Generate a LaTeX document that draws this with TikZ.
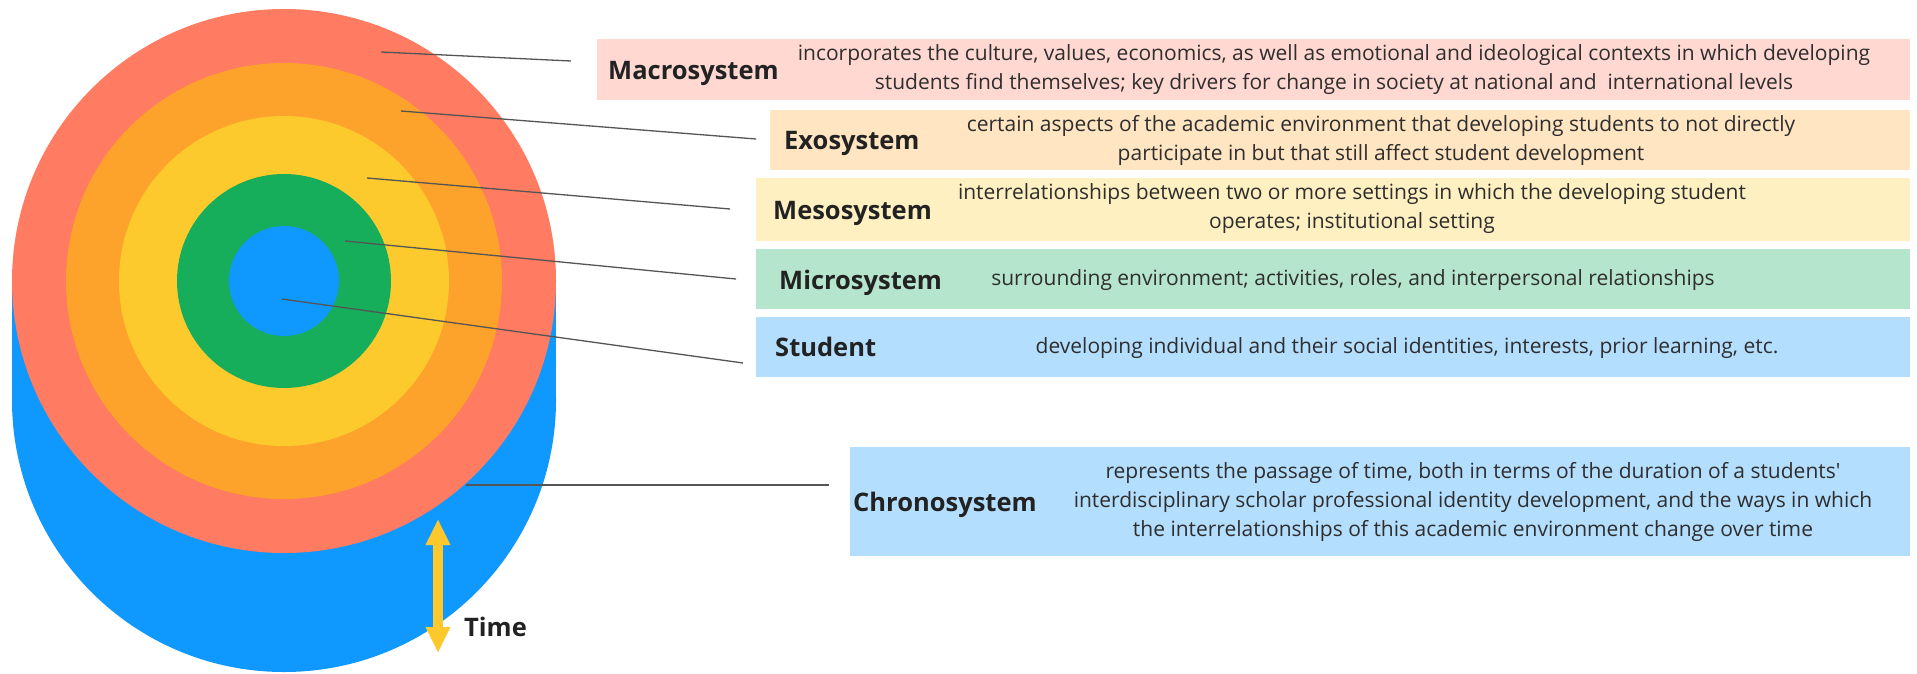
\documentclass[tikz,border=0pt]{standalone}
\usepackage{fontspec}
\setmainfont{Open Sans}[Ligatures=TeXOff]
\usetikzlibrary{arrows.meta}
\definecolor{ringred}{HTML}{FF7B61}
\definecolor{ringorange}{HTML}{FDA32B}
\definecolor{ringyellow}{HTML}{FDCA2D}
\definecolor{ringgreen}{HTML}{17AE5B}
\definecolor{ringblue}{HTML}{0F98FE}
\definecolor{boxpink}{HTML}{FFD8D1}
\definecolor{boxpeach}{HTML}{FFE5C1}
\definecolor{boxyellow}{HTML}{FFF0C2}
\definecolor{boxgreen}{HTML}{B6E5CD}
\definecolor{boxblue}{HTML}{B4DEFE}
\definecolor{timeyellow}{HTML}{FDC82B}
\definecolor{inkdark}{HTML}{222222}
\definecolor{inkdesc}{HTML}{2E2E2E}
\definecolor{leader}{HTML}{555555}
\tikzset{
  ring/.style={circle, inner sep=0pt, outer sep=0pt, minimum size=#1},
  bandbox/.style={rectangle, inner sep=0pt, outer sep=0pt, anchor=north west},
  syslabel/.style={anchor=west, inner sep=0pt, text=inkdark,
    font=\fontsize{25.5}{30}\selectfont\bfseries, text height=18pt, text depth=0pt},
  sysdesc/.style={anchor=center, inner sep=0pt, align=center, text=inkdesc,
    font=\fontsize{21}{29}\selectfont},
  leaderline/.style={draw=leader, line width=1.3pt},
}
\begin{document}
\begin{tikzpicture}[x=1pt, y=-1pt]
\useasboundingbox (0,0) rectangle (1917,673);
% cylinder body
\node[ring=544pt, fill=ringblue] (base) at (284,400) {};
\fill[ringblue] (12,281) rectangle (556,400);
% rings
\node[ring=544pt, fill=ringred] (macroC) at (284,281) {};
\node[ring=436pt, fill=ringorange] (exoC) at (284,281) {};
\node[ring=330pt, fill=ringyellow] (mesoC) at (284,281) {};
\node[ring=214pt, fill=ringgreen] (microC) at (284,281) {};
\node[ring=110pt, fill=ringblue] (studentC) at (284,281) {};

% boxes
\node[bandbox, fill=boxpink, minimum width=1313pt, minimum height=61pt] (macroB) at (597,39) {};
\node[bandbox, fill=boxpeach, minimum width=1140pt, minimum height=60pt] (exoB) at (770,110) {};
\node[bandbox, fill=boxyellow, minimum width=1154pt, minimum height=63pt] (mesoB) at (756,178) {};
\node[bandbox, fill=boxgreen, minimum width=1154pt, minimum height=60pt] (microB) at (756,249) {};
\node[bandbox, fill=boxblue, minimum width=1154pt, minimum height=60pt] (studentB) at (756,317) {};
\node[bandbox, fill=boxblue, minimum width=1060pt, minimum height=109pt] (chronoB) at (850,447) {};

% labels
\node[syslabel] (macroL) at (608,70) {Macrosystem};
\node[syslabel] (exoL) at (784,140) {Exosystem};
\node[syslabel] (mesoL) at (773,210) {Mesosystem};
\node[syslabel] (microL) at (779,280) {Microsystem};
\node[syslabel] (studentL) at (775,347) {Student};
\node[syslabel] (chronoL) at (853,502) {Chronosystem};

% descriptions
\node[sysdesc] (macroD) at (1334,70) {incorporates the culture, values, economics, as well as emotional and ideological contexts in which developing\\students find themselves; key drivers for change in society at national and\ \ international levels};
\node[sysdesc] (exoD) at (1381,140) {certain aspects of the academic environment that developing students to not directly\\participate in but that still affect student development};
\node[sysdesc] (mesoD) at (1352,209) {interrelationships between two or more settings in which the developing student\\operates; institutional setting};
\node[sysdesc] (microD) at (1353,280) {surrounding environment; activities, roles, and interpersonal relationships};
\node[sysdesc] (studentD) at (1407,348) {developing individual and their social identities, interests, prior learning, etc.};
\node[sysdesc] (chronoD) at (1473,502) {represents the passage of time, both in terms of the duration of a students'\\interdisciplinary scholar professional identity development, and the ways in which\\the interrelationships of this academic environment change over time};

% leader lines
\coordinate (macroP) at (381,52);   \coordinate (macroE) at (571,61);
\coordinate (exoP) at (401,111);    \coordinate (exoE) at (756,139);
\coordinate (mesoP) at (367,178);   \coordinate (mesoE) at (730,209);
\coordinate (microP) at (345,241);  \coordinate (microE) at (736,279);
\coordinate (studentP) at (282,299);\coordinate (studentE) at (743,363);
\coordinate (chronoP) at (466,485); \coordinate (chronoE) at (829,485);
\draw[leaderline] (macroP) -- (macroE);
\draw[leaderline] (exoP) -- (exoE);
\draw[leaderline] (mesoP) -- (mesoE);
\draw[leaderline] (microP) -- (microE);
\draw[leaderline] (studentP) -- (studentE);
\draw[leaderline] (chronoP) -- (chronoE);

% time arrow
\coordinate (timeTop) at (438,519);
\coordinate (timeBot) at (438,653);
\draw[timeyellow, line width=10pt,
  {Triangle[width=23pt,length=26pt]}-{Triangle[width=23pt,length=26pt]}] (timeTop) -- (timeBot);
\node[syslabel] (timeL) at (464,627) {Time};
\end{tikzpicture}
\end{document}
